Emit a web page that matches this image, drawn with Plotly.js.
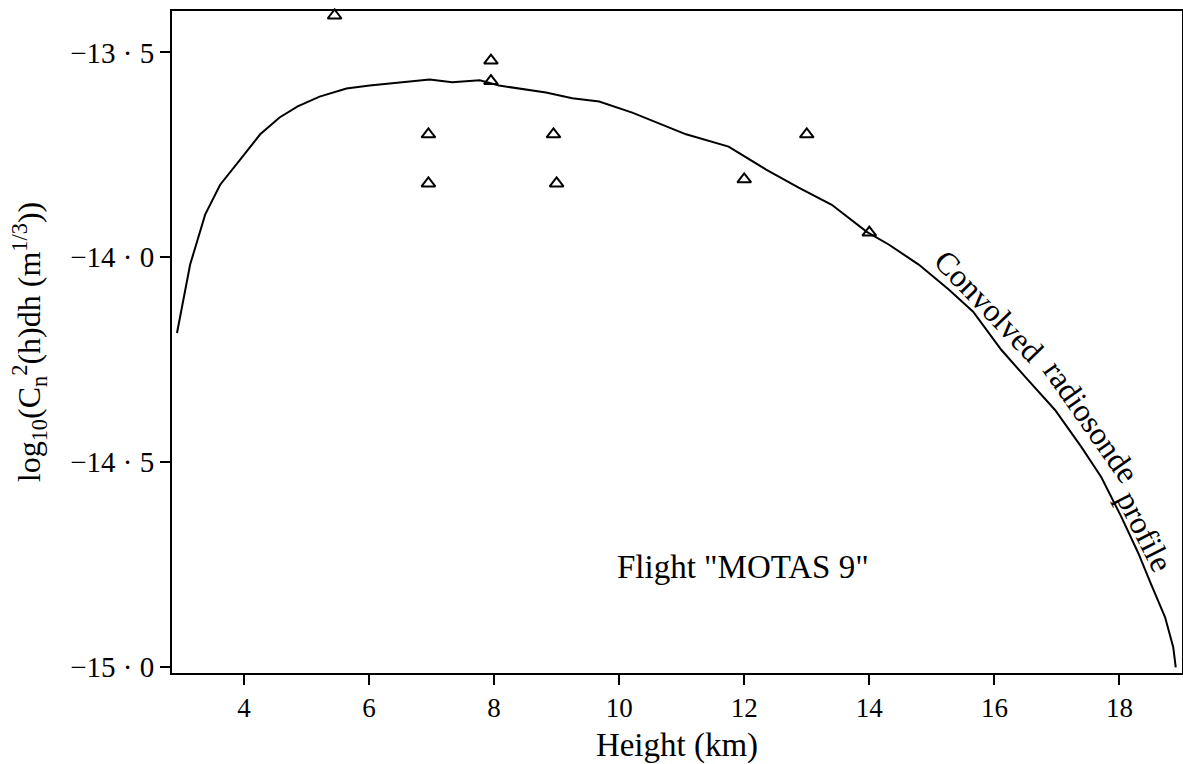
<!DOCTYPE html>
<html>
<head>
<meta charset="utf-8">
<script src="https://cdn.plot.ly/plotly-3.0.1.min.js"></script>
<style>
  html, body { margin: 0; padding: 0; background: #fff; }
  #chart { width: 1183px; height: 764px; }
</style>
</head>
<body>
<div id="chart"></div>
<script>
// Convolved radiosonde profile: height (km) vs log10 of integrated Cn^2
const profileHeight = [2.93, 3.14, 3.38, 3.62, 3.94, 4.26, 4.57, 4.86, 5.21, 5.64, 6.01, 6.49, 6.97,
  7.33, 7.77, 8.08, 8.83, 9.25, 9.68, 10.21, 11.07, 11.75, 12.35, 12.87, 13.40, 13.96, 14.31,
  14.79, 15.27, 15.66, 16.11, 16.54, 16.97, 17.39, 17.71, 18.03, 18.30, 18.50, 18.73, 18.86, 18.90];
const profileLogCn2 = [-14.185, -14.018, -13.896, -13.823, -13.762, -13.700, -13.659, -13.632, -13.608,
  -13.588, -13.581, -13.573, -13.566, -13.573, -13.568, -13.581, -13.598, -13.612, -13.620, -13.647,
  -13.700, -13.730, -13.786, -13.830, -13.872, -13.938, -13.969, -14.018, -14.079, -14.133, -14.226,
  -14.300, -14.373, -14.463, -14.537, -14.634, -14.722, -14.796, -14.879, -14.952, -15.001];

// Aircraft measurements (flight MOTAS 9)
const flightHeight = [5.45, 6.95, 6.95, 7.95, 7.95, 8.95, 9.0, 12.0, 13.0, 14.0];
const flightLogCn2 = [-13.41, -13.70, -13.82, -13.52, -13.57, -13.70, -13.82, -13.81, -13.70, -13.94];

// Axis ticks
const xTickVals = [4, 6, 8, 10, 12, 14, 16, 18];
const yTickVals = [-15.0, -14.5, -14.0, -13.5];
const yTickText = ['\u221215 \u00b7 0', '\u221214 \u00b7 5', '\u221214 \u00b7 0', '\u221213 \u00b7 5'];

// Curve label, word by word along the profile
const labelWords = ['Convolved', 'radiosonde', 'profile'];
const labelX = [15.92, 17.54, 18.40];
const labelY = [-14.118, -14.401, -14.669];
const labelAngle = [46, 55, 63];

const serif = 'Liberation Serif, Times New Roman, serif';

const traces = [
  {
    x: profileHeight, y: profileLogCn2, type: 'scatter', mode: 'lines',
    line: { color: '#000', width: 2 }, hoverinfo: 'skip'
  },
  {
    x: flightHeight, y: flightLogCn2, type: 'scatter', mode: 'markers',
    marker: { symbol: 'triangle-up-open', size: 12, color: '#000', line: { width: 2, color: '#000' } },
    cliponaxis: false
  }
];

const annotations = labelWords.map((w, i) => ({
  x: labelX[i], y: labelY[i], xref: 'x', yref: 'y', text: w, showarrow: false,
  textangle: labelAngle[i], xanchor: 'center', yanchor: 'middle',
  font: { family: serif, size: 32, color: '#000' }
}));
annotations.push({
  x: 11.98, y: -14.757, xref: 'x', yref: 'y', text: 'Flight "MOTAS 9"', showarrow: false,
  xanchor: 'center', yanchor: 'middle', font: { family: serif, size: 33, color: '#000' }
});

const layout = {
  width: 1183, height: 764,
  margin: { l: 172, r: 1, t: 11, b: 91 },
  paper_bgcolor: '#fff', plot_bgcolor: '#fff',
  showlegend: false,
  font: { family: serif, color: '#000' },
  xaxis: {
    range: [2.85, 19.0], tickvals: xTickVals, ticks: 'outside', ticklen: 10, tickwidth: 2,
    tickcolor: '#000', showgrid: false, zeroline: false,
    showline: true, linecolor: '#000', linewidth: 2, mirror: true,
    tickfont: { family: serif, size: 27, color: '#000' },
    title: { text: 'Height (km)', font: { family: serif, size: 33, color: '#000' }, standoff: 10 }
  },
  yaxis: {
    range: [-15.015, -13.399], tickvals: yTickVals, ticktext: yTickText, ticks: 'outside',
    ticklen: 10, tickwidth: 2, tickcolor: '#000', showgrid: false, zeroline: false,
    showline: true, linecolor: '#000', linewidth: 2, mirror: true,
    tickfont: { family: serif, size: 29, color: '#000' },
    title: {
      text: 'log<sub>10</sub>(C<sub>n</sub><sup>2</sup>(h)dh (m<sup>1/3</sup>))',
      font: { family: serif, size: 32, color: '#000' }, standoff: 20
    }
  },
  annotations: annotations
};

Plotly.newPlot('chart', traces, layout, { displayModeBar: false, staticPlot: true });
</script>
</body>
</html>
